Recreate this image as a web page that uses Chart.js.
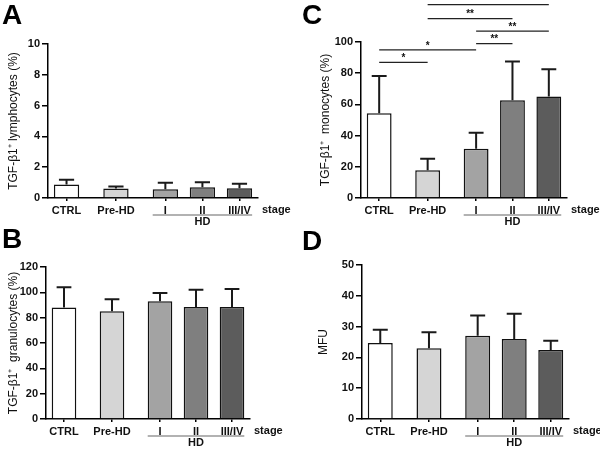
<!DOCTYPE html>
<html>
<head>
<meta charset="utf-8">
<script src="https://cdn.jsdelivr.net/npm/chart.js@4"></script>
<style>
  body { margin: 0; background: #fff; }
  #wrap { position: relative; width: 600px; height: 452px; overflow: hidden; }
  canvas { position: absolute; }
  .tag { position: absolute; font: bold 28px 'Liberation Sans', Arial, sans-serif; line-height: 1; color: #000; }
</style>
</head>
<body>
<div id="wrap">
  <canvas id="cA" width="300" height="232" style="left:0;top:0"></canvas>
  <canvas id="cC" width="300" height="232" style="left:300px;top:0"></canvas>
  <canvas id="cB" width="300" height="226" style="left:0;top:226px"></canvas>
  <canvas id="cD" width="300" height="226" style="left:300px;top:226px"></canvas>
  <div class="tag" style="left:2px;top:1px">A</div>
  <div class="tag" style="left:302px;top:1px">C</div>
  <div class="tag" style="left:2px;top:225px">B</div>
  <div class="tag" style="left:302px;top:227px">D</div>
</div>
<script>
var FONT = "'Liberation Sans', Arial, sans-serif";

// groups on the x axis
var categories = ['CTRL', 'Pre-HD', 'I', 'II', 'III/IV'];
var barColors = ['#ffffff', '#d5d5d5', '#a3a3a3', '#7f7f7f', '#5c5c5c'];

// A - lymphocytes
var lymphMean = [0.88, 0.61, 0.57, 0.69, 0.64];
var lymphSD   = [0.30, 0.13, 0.42, 0.34, 0.29];
// B - granulocytes
var granMean = [88, 85, 93, 88.5, 88.5];
var granSD   = [16, 9.5, 6.5, 13.5, 14.2];
// C - monocytes
var monoMean = [54.3, 17.8, 31.5, 62.7, 65];
var monoSD   = [23.9, 7.3, 10.3, 24.8, 17.6];
// D - MFU
var mfuMean = [24.7, 23, 27, 26, 22.4];
var mfuSD   = [4.3, 5.2, 6.6, 8.2, 3.0];

// significance brackets in C: [from, to, label], drawn at the given y value
var monoSig = [[0, 1, '*'], [0, 2, '*'], [2, 3, '**'], [2, 4, '**'], [1, 3, '**'], [1, 4, '**']];
var monoSigLevel = [87, 95, 99, 107, 115, 124];

// layout: groups sit on a finer slot grid so that the gaps are uneven like the original
var slots = [1, 5, 9, 12, 15];
var N_SLOTS = 17;

function spread(arr, fill) {
  var out = [];
  for (var i = 0; i < N_SLOTS; i++) out.push(fill);
  slots.forEach(function (s, i) { out[s] = arr[i]; });
  return out;
}

var errorBars = {
  id: 'errorBars',
  afterDatasetsDraw: function (chart) {
    var sd = chart.options.plugins.errorBars.sd;
    var means = chart.options.plugins.errorBars.means;
    var meta = chart.getDatasetMeta(0);
    var y = chart.scales.y;
    var ctx = chart.ctx;
    ctx.save();
    ctx.strokeStyle = '#1a1a1a';
    ctx.lineWidth = 2;
    slots.forEach(function (s, i) {
      var bar = meta.data[s];
      var top = y.getPixelForValue(means[i]);
      var cap = y.getPixelForValue(means[i] + sd[i]);
      var half = bar.width * 0.3;
      ctx.beginPath();
      ctx.moveTo(bar.x, top);
      ctx.lineTo(bar.x, cap);
      ctx.moveTo(bar.x - half, cap);
      ctx.lineTo(bar.x + half, cap);
      ctx.stroke();
    });
    ctx.restore();
  }
};

var stageLabels = {
  id: 'stageLabels',
  afterDraw: function (chart) {
    var ctx = chart.ctx, ca = chart.chartArea;
    var meta = chart.getDatasetMeta(0);
    var first = meta.data[slots[2]], last = meta.data[slots[4]];
    var x0 = first.x - first.width / 2, x1 = last.x + last.width / 2;
    ctx.save();
    ctx.fillStyle = '#111';
    ctx.font = 'bold 11px ' + FONT;
    ctx.textBaseline = 'middle';
    ctx.textAlign = 'left';
    ctx.fillText('stage', ca.right + 4, ca.bottom + 12);
    ctx.strokeStyle = '#666';
    ctx.lineWidth = 1.2;
    ctx.beginPath();
    ctx.moveTo(x0, ca.bottom + 17);
    ctx.lineTo(x1, ca.bottom + 17);
    ctx.stroke();
    ctx.textAlign = 'center';
    ctx.fillText('HD', (x0 + x1) / 2, ca.bottom + 24);
    ctx.restore();
  }
};

var sigBrackets = {
  id: 'sigBrackets',
  afterDraw: function (chart) {
    var cfg = chart.options.plugins.sigBrackets;
    if (!cfg || !cfg.pairs) return;
    var ctx = chart.ctx;
    var meta = chart.getDatasetMeta(0);
    var y = chart.scales.y;
    ctx.save();
    ctx.strokeStyle = '#222';
    ctx.fillStyle = '#111';
    ctx.lineWidth = 1.3;
    ctx.font = 'bold 10px ' + FONT;
    ctx.textAlign = 'center';
    ctx.textBaseline = 'bottom';
    cfg.pairs.forEach(function (p, i) {
      var xa = meta.data[slots[p[0]]].x, xb = meta.data[slots[p[1]]].x;
      var yy = y.getPixelForValue(cfg.levels[i]);
      ctx.beginPath();
      ctx.moveTo(xa, yy);
      ctx.lineTo(xb, yy);
      ctx.stroke();
      ctx.fillText(p[2], (xa + xb) / 2, yy + 1);
    });
    ctx.restore();
  }
};

function makePanel(id, means, sd, yMax, step, title, area, titlePad, sig) {
  var canvas = document.getElementById(id);
  var W = canvas.width, H = canvas.height;
  var labels = spread(categories, '');
  return new Chart(canvas.getContext('2d'), {
    type: 'bar',
    data: {
      labels: labels,
      datasets: [{
        data: spread(means, null),
        backgroundColor: spread(barColors, '#fff'),
        borderColor: '#111',
        borderWidth: 1.5,
        barPercentage: 2.05,
        categoryPercentage: 1
      }]
    },
    options: {
      responsive: false,
      animation: false,
      events: [],
      layout: { padding: { top: area.t, right: W - area.r, left: 0, bottom: 0 } },
      plugins: {
        legend: { display: false },
        tooltip: { enabled: false },
        errorBars: { means: means, sd: sd },
        sigBrackets: sig || {}
      },
      scales: {
        x: {
          offset: true,
          grid: {
            offset: false,
            drawOnChartArea: false,
            drawTicks: true,
            tickLength: 3,
            lineWidth: 1.5,
            color: function (c) { return labels[c.index] ? '#000' : 'rgba(0,0,0,0)'; }
          },
          border: { color: '#000', width: 1.5 },
          ticks: { autoSkip: false, maxRotation: 0, minRotation: 0, padding: 3, color: '#111', font: { size: 11, weight: 'bold', family: FONT } },
          afterFit: function (s) { s.height = H - area.b; }
        },
        y: {
          min: 0,
          max: yMax,
          ticks: { stepSize: step, padding: 2, color: '#111', font: { size: 11, weight: 'bold', family: FONT } },
          grid: { drawOnChartArea: false, tickLength: 6, color: '#000', lineWidth: 1.5 },
          border: { color: '#000', width: 1.5 },
          title: { display: true, text: title, color: '#111', font: { size: 12, family: FONT }, padding: { top: titlePad, bottom: 0 } },
          afterFit: function (s) { s.width = area.l; }
        }
      }
    },
    plugins: [errorBars, stageLabels, sigBrackets]
  });
}

makePanel('cA', lymphMean, lymphSD, 10, 2, 'TGF-\u03b21\u207a lymphocytes (%)', { l: 48, r: 258, t: 44, b: 198 }, 6);
makePanel('cB', granMean, granSD, 120, 20, 'TGF-\u03b21\u207a  granulocytes (%)', { l: 46, r: 250, t: 41, b: 193 }, 6);
makePanel('cC', monoMean, monoSD, 100, 20, 'TGF-\u03b21\u207a  monocytes (%)', { l: 61, r: 267, t: 42, b: 198 }, 18, { pairs: monoSig, levels: monoSigLevel });
makePanel('cD', mfuMean, mfuSD, 50, 10, 'MFU', { l: 62, r: 269, t: 39, b: 193 }, 16);
</script>
</body>
</html>
